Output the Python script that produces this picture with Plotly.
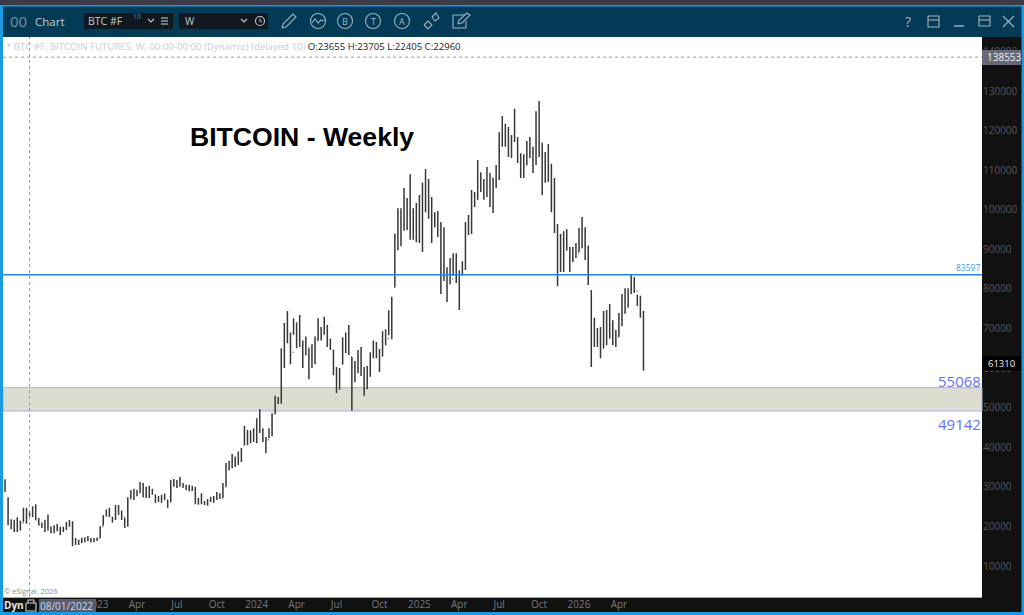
import pandas as pd
import plotly.graph_objects as go

FIRST_WEEK = "2022-06-06"
highs = [31900,27400,21800,21700,22300,21400,24700,24700,23705,25100,
 25600,22100,21000,21600,23000,19900,20300,20600,19900,19900,
 21100,21600,21300,17100,16600,17100,17200,17600,17100,17100,
 17200,20000,22800,24300,24700,22400,25400,25400,24000,22100,
 27400,29200,29500,29200,31200,31000,30000,30300,29500,28000,
 27700,28000,28300,26700,31700,32000,31700,32500,31000,30500,
 30500,30300,30000,27200,28400,26400,26900,27500,27700,28700,
 28400,31000,36000,36600,38300,37600,38900,39800,45400,44300,
 44300,44800,47300,49600,44800,42600,44800,48600,53000,52700,
 65000,71400,74400,69000,72600,71600,73400,67000,68000,65000,
 66000,68000,72600,70400,73000,70900,67500,64600,60300,60000,
 67800,69000,70900,62800,61800,64600,65300,60300,60500,64000,
 67000,66600,64800,69300,69800,74600,78000,94000,100400,100400,
 105500,103000,109000,100400,101700,103700,106800,110300,107800,103200,
 99400,99700,96900,95600,85500,87800,89000,89000,84700,87000,
 96900,98700,105000,104500,112600,109500,107800,110800,109300,108000,
 111300,119600,123700,121700,120900,118900,125500,118400,114300,114000,
 117400,118400,115900,124900,127500,116900,114600,116600,111600,108000,
 96400,93900,94600,95100,90600,90600,91600,95400,98200,95600,
 91000,79700,72700,70100,70400,74400,74700,76200,72100,69600,
 73900,78700,80200,80200,83800,83000,78500,78300,74400]
lows = [28700,20300,19300,18600,18600,19000,21100,20700,22405,22400,
 21600,20300,19600,18600,19000,18300,18300,18800,17800,18600,
 19100,19900,15000,15300,15300,15800,16000,16300,16000,16000,
 16300,17000,20200,22500,22400,21000,21600,22900,21600,19600,
 19900,27000,26700,27600,28500,27400,27200,27200,28000,25900,
 26200,26000,26700,24700,26200,30000,29700,30000,29700,29200,
 28900,29000,25600,25500,25600,25400,25200,26200,26000,26700,
 26900,27200,30000,34200,34700,35000,35500,36300,40500,40500,
 41000,41300,41000,43600,41300,38500,42300,42800,48400,50900,
 51000,60000,66300,61000,68400,65000,65300,60000,63300,57200,
 60000,61000,67000,67000,68500,65300,64600,58200,53700,54500,
 61000,63800,63300,49300,56400,58700,58000,53000,54700,57800,
 62500,62500,59000,63000,65800,68300,67300,80400,89800,90800,
 94700,94900,92400,92400,91800,91600,89300,99400,97700,91600,
 95600,93100,78700,82000,76700,81200,83300,81500,74700,83300,
 84800,93600,93900,100700,102500,104500,102500,103200,100700,99200,
 105500,107500,115900,115900,113300,113100,117100,111800,108000,108000,
 111300,113100,109300,111300,113300,103700,106800,107000,99400,94100,
 80700,84300,84300,89800,84300,86800,87800,89300,90300,87300,
 81000,60300,65300,65300,62500,65000,65800,67500,65800,65300,
 67900,70600,73700,75400,78700,79000,75700,72700,59300]
closes = [28900,20600,21100,19300,21800,20800,22600,23700,22960,24400,
 21600,20300,20000,21500,20000,19000,19500,19500,19200,19500,
 20700,21000,16900,16200,16500,17000,17100,16700,16800,16500,
 16900,19900,22700,23100,23300,21800,24600,23200,22300,20600,
 26800,27500,28400,28000,30500,27500,29200,28900,28600,27100,
 26900,27200,27000,25500,30500,30500,30300,30300,30000,29300,
 29100,29500,26300,26100,26000,26000,26700,26600,27000,27700,
 27200,30000,34500,35200,37400,37500,37500,39500,44300,42000,
 43800,42700,44200,44300,41900,41900,43000,48000,52000,51700,
 63000,68500,69000,64000,70000,69000,66000,62500,66000,60500,
 64000,67000,69000,68000,70000,66000,65000,60000,58000,56000,
 66000,68000,64000,58000,59000,62000,58500,54800,59000,63000,
 65000,63500,60500,68500,67500,69500,77000,90000,98000,96500,
 97500,98000,95500,96000,94000,94500,104500,105000,101000,96000,
 97000,96000,84000,85000,83000,82500,85000,83500,84000,85000,
 94500,97000,104000,103000,107000,105500,106000,105000,108000,103500,
 109000,118500,119500,119000,114000,117500,118000,113000,110500,111000,
 116000,114500,114000,123500,115000,108000,110000,110000,104000,95000,
 92000,87000,93500,89800,88000,88000,89000,93500,90500,88000,
 84000,71000,68500,67000,64500,68000,69500,70000,66500,67000,
 73000,78000,74500,79000,82500,79500,77500,73500,61310]
opens = [29800,27000,20600,21100,19300,21300,20800,22600,23655,22960,
 24400,21600,20300,20000,21500,19900,19000,19500,19500,19200,
 19500,20700,21000,16900,16200,16500,17000,17100,16700,16800,
 16500,17000,19900,22700,23100,22400,21800,24600,23200,22300,
 20600,27000,27500,28400,28500,30500,27500,29200,28900,28000,
 27100,26900,27200,26700,26200,30500,30500,30300,30300,30000,
 29300,29100,29500,26300,26100,26000,26000,26700,26600,27000,
 27700,27200,30000,34500,35200,37400,37500,37500,40500,44300,
 42000,43800,42700,44200,43000,41900,41900,43000,48400,52000,
 51700,63000,68500,68800,64000,70000,69000,66000,63300,65000,
 60500,64000,67000,69000,68500,70000,66000,64600,60000,58000,
 61000,66000,68000,62800,58000,59000,62000,58500,54800,59000,
 63000,65000,63500,63000,68500,67500,69500,80400,90000,98000,
 96500,97500,98000,95500,96000,94000,94500,104500,105000,101000,
 96000,97000,96000,84000,85000,83000,82500,85000,83500,84000,
 85000,94500,97000,104000,103000,107000,105500,106000,105000,108000,
 107500,109000,118500,119500,119000,114000,117500,118000,113000,110500,
 111300,116000,114500,114000,123500,115000,108000,110000,110000,104000,
 95000,92000,87000,93500,89500,88000,88000,89000,93500,90500,
 88000,79000,71000,68500,67000,65000,68000,69500,70000,66500,
 67900,73000,78000,75400,79000,82500,79500,77500,73500]

price_ticks = [10000,20000,30000,40000,50000,60000,70000,80000,90000,100000,110000,120000,130000,140000]
date_ticks = ["2023-01-02","2023-04-03","2023-07-03","2023-10-02","2024-01-01","2024-04-01","2024-07-01",
              "2024-10-07","2025-01-06","2025-04-07","2025-07-07","2025-10-06","2026-01-05","2026-04-06"]
date_labels = ["2023","Apr","Jul","Oct","2024","Apr","Jul","Oct","2025","Apr","Jul","Oct","2026","Apr"]
LEVEL_MAIN = 83597
ZONE_TOP = 55068
ZONE_BOT = 49142
LAST_PRICE = 61310
TOP_PRICE = 138553
CROSS_DATE = "2022-08-01"

weeks = pd.date_range(FIRST_WEEK, periods=len(highs), freq="7D")

W, H = 1024, 615
L, R, T, B = 3, 42, 37, 18
px = lambda x: (x - L) / (W - L - R)
py = lambda y: 1 - (y - T) / (H - T - B)
UI = "Open Sans"
ICON = "#9fb3bf"

fig = go.Figure(go.Ohlc(
    x=weeks, open=opens, high=highs, low=lows, close=closes, tickwidth=0.25,
    increasing=dict(line=dict(color="#383838", width=1.5)),
    decreasing=dict(line=dict(color="#383838", width=1.5)),
    showlegend=False, hoverinfo="skip"))

shapes = []
def rect(x0, y0, x1, y1, color):
    shapes.append(dict(type="rect", xref="paper", yref="paper", x0=px(x0), x1=px(x1), y0=py(y0), y1=py(y1),
                       fillcolor=color, line=dict(width=0), layer="above"))
def path(pts, color=ICON, width=1.1, close=False):
    d = "M" + " L".join(f"{px(a):.5f},{py(b):.5f}" for a, b in pts) + (" Z" if close else "")
    shapes.append(dict(type="path", xref="paper", yref="paper", path=d, line=dict(color=color, width=width), layer="above"))
def circle(cx, cy, r, color=ICON):
    shapes.append(dict(type="circle", xref="paper", yref="paper", x0=px(cx-r), x1=px(cx+r), y0=py(cy-r), y1=py(cy+r),
                       line=dict(color=color, width=1.1), layer="above"))

# price levels
shapes.append(dict(type="rect", xref="paper", yref="y", x0=0, x1=1, y0=ZONE_BOT, y1=ZONE_TOP, fillcolor="#dcdcd0",
                   line=dict(color="#aab4f0", width=1), layer="below"))
shapes.append(dict(type="line", xref="paper", yref="y", x0=0, x1=1, y0=LEVEL_MAIN, y1=LEVEL_MAIN,
                   line=dict(color="#1e88ee", width=1.5), layer="above"))
shapes.append(dict(type="line", xref="paper", yref="y", x0=0, x1=1, y0=TOP_PRICE, y1=TOP_PRICE,
                   line=dict(color="#9a9a9a", width=1, dash="dot"), layer="above"))
shapes.append(dict(type="line", xref="x", yref="paper", x0=CROSS_DATE, x1=CROSS_DATE, y0=0, y1=1,
                   line=dict(color="#9a9a9a", width=1, dash="dot"), layer="above"))

# window chrome
rect(0, 0, 1024, 5, "#3b3b47")
rect(2, 5, 1023, 37, "#033a55")
rect(2, 5, 1023, 6.5, "#1a9ae0")
rect(0, 5, 3, 612, "#1a9ae0")
rect(1021.5, 5, 1024, 612, "#1a9ae0")
rect(3, 597, 982, 598, "#a8a8a8")
rect(0, 612, 1024, 615, "#1a9ae0")
rect(84, 13, 173, 29, "#111820")
rect(179, 13, 268, 29, "#111820")
rect(982, 50, 1021, 65, "#666a78")
rect(983, 356, 1021, 370.5, "#000000")
rect(39, 599, 96, 612, "#565c72")

# toolbar icons
path([(148,19),(151,22),(154,19)], "#c0ccd4")
for yy in (18, 21, 24):
    path([(161,yy),(168,yy)], "#c0ccd4")
path([(241,19),(244,22),(247,19)], "#c0ccd4")
circle(260, 21, 4.5, "#c0ccd4")
path([(260,18.5),(260,21),(262,22)], "#c0ccd4", 1)
path([(282,28),(283,24),(293,14),(296,17),(286,27),(282,28)])
circle(318, 21, 7.5)
path([(312,23),(315,19),(318,23),(321,20),(324,21)])
for cx in (345, 373, 402):
    circle(cx, 21, 7.5)
path([(424,25),(428,21),(432,25),(428,29),(424,25)])
path([(432,17),(436,13),(439,18),(435,21),(432,17)])
path([(465,15),(453,15),(453,28),(466,28),(466,21)])
path([(458,24),(459,20),(467,13),(470,15),(462,23),(458,24)])
path([(928,16),(939,16),(939,27),(928,27),(928,16)], "#a5b5c0")
path([(928,20),(939,20)], "#a5b5c0")
path([(954,26),(964,26)], "#a5b5c0", 1.4)
path([(979,16),(990,16),(990,26),(979,26),(979,16)], "#a5b5c0")
path([(979,20),(990,20)], "#a5b5c0")
path([(1003,16),(1014,27)], "#a5b5c0")
path([(1014,16),(1003,27)], "#a5b5c0")
# lock
path([(26,603),(26,611),(36,611),(36,603),(26,603)], "#d0d0d0")
path([(28,603),(28,600),(34,600),(34,603)], "#d0d0d0")

ann = []
def text(x, y, s, size=10, color="#333", anchor="left", bold=False, font=UI, yref="paper"):
    ann.append(dict(xref="paper", yref=yref, x=px(x), y=(py(y) if yref == "paper" else y), text=f"<b>{s}</b>" if bold else s,
                    showarrow=False, xanchor=anchor, yanchor="middle",
                    font=dict(size=size, color=color, family=font), borderpad=0, borderwidth=0))

text(10, 21, "00", 15, "#6f93a8")
text(35, 21, "Chart", 11.5, "#c0ccd4")
text(88, 21, "BTC #F", 10.5, "#c0ccd4")
text(133, 17, "10", 7, "#2a9ad6")
text(185, 21, "W", 10, "#c0ccd4")
for cx, tx in ((345, "B"), (373, "T"), (402, "A")):
    text(cx, 21, tx, 9, ICON, "center")
text(908, 21, "?", 14, "#a5b5c0", "center")

text(6, 46.5, '* BTC #F, BITCOIN FUTURES, W, 00:00-00:00 (Dynamic) (delayed 10) '
     '<span style="color:#222">O:23655 H:23705 L:22405 C:22960</span>', 9.6, "#c8cbe2")
text(190, 137, "BITCOIN - Weekly", 26.6, "#000000", bold=True, font="Liberation Sans")
text(980, LEVEL_MAIN + 1700, str(LEVEL_MAIN), 8.5, "#3b9bef", "right", yref="y")
text(981, 381, str(ZONE_TOP), 15, "#6a6cf5", "right")
text(981, 424, str(ZONE_BOT), 15, "#6a6cf5", "right")
text(4, 591, "© eSignal, 2026", 7.4, "#8a8a8a")
text(4, 605, "Dyn", 10, "#e8e8e8", bold=True)
text(40, 605.5, "08/01/2022", 10, "#d8d8e0")
text(987, 57.5, f"{TOP_PRICE}", 10, "#f0f0f0")
text(988, 363.5, f"{LAST_PRICE}", 9.5, "#f0f0f0")

fig.update_layout(
    width=W, height=H, margin=dict(l=L, r=R, t=T, b=B, pad=0), autosize=False,
    paper_bgcolor="#111111", plot_bgcolor="#ffffff", shapes=shapes, annotations=ann,
    xaxis=dict(type="date", range=["2022-06-01 10:00", "2028-07-12"], tickmode="array", tickvals=date_ticks,
               ticktext=date_labels, showgrid=False, zeroline=False, ticks="", rangeslider=dict(visible=False),
               tickfont=dict(family=UI, size=10, color="#77777f"), showline=False, fixedrange=True),
    yaxis=dict(side="right", range=[2170, 143642], tickmode="array", tickvals=price_ticks,
               ticktext=[str(v) for v in price_ticks], showgrid=False, zeroline=False, ticks="",
               tickfont=dict(family=UI, size=10, color="#55555f"), showline=False, fixedrange=True),
)
fig.write_html("out.html", post_script="document.body.style.margin='0';document.body.style.overflow='hidden';",
               config=dict(displayModeBar=False))
